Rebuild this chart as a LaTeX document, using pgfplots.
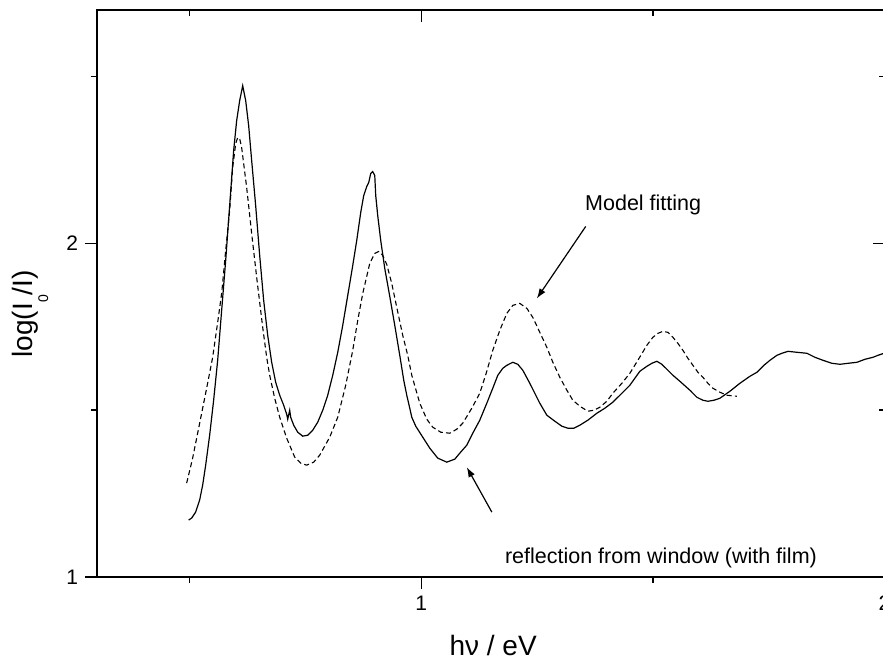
\documentclass[border=0pt]{standalone}
\usepackage{fontspec}
\setmainfont{Liberation Sans}
\usepackage{pgfplots}
\usepackage{pgfplotstable}
\pgfplotsset{compat=1.18}
\usetikzlibrary{arrows.meta}

\newcommand{\annfont}{\fontsize{10.75}{13}\selectfont}

% measured spectrum: reflection from window (with film)
\pgfplotstableread{
x y
0.4978 1.1707
0.5043 1.1766
0.5130 1.1946
0.5216 1.2305
0.5281 1.2754
0.5346 1.3353
0.5432 1.4251
0.5518 1.5299
0.5605 1.6497
0.5691 1.7994
0.5778 1.9491
0.5864 2.1138
0.5950 2.2784
0.6015 2.3683
0.6080 2.4281
0.6145 2.4731
0.6210 2.4281
0.6274 2.3533
0.6339 2.2485
0.6425 2.1138
0.6512 1.9641
0.6598 1.8293
0.6685 1.7246
0.6771 1.6437
0.6857 1.5838
0.6944 1.5449
0.7030 1.5150
0.7095 1.4880
0.7117 1.4731
0.7160 1.5000
0.7181 1.4790
0.7246 1.4551
0.7333 1.4341
0.7441 1.4222
0.7549 1.4251
0.7657 1.4401
0.7765 1.4641
0.7873 1.5000
0.7981 1.5449
0.8089 1.6048
0.8197 1.6737
0.8305 1.7545
0.8413 1.8443
0.8521 1.9341
0.8607 2.0090
0.8693 2.0928
0.8758 2.1437
0.8823 2.1707
0.8866 2.1826
0.8909 2.2096
0.8952 2.2156
0.8996 2.2036
0.9017 2.1437
0.9060 2.0838
0.9125 2.0090
0.9212 1.9251
0.9320 1.8413
0.9428 1.7545
0.9536 1.6647
0.9622 1.5898
0.9687 1.5449
0.9752 1.5060
0.9795 1.4790
0.9881 1.4521
1.0032 1.4192
1.0184 1.3862
1.0356 1.3563
1.0551 1.3443
1.0724 1.3533
1.0832 1.3713
1.0983 1.3952
1.1112 1.4311
1.1263 1.4701
1.1415 1.5210
1.1544 1.5659
1.1652 1.6048
1.1760 1.6257
1.1847 1.6347
1.1976 1.6437
1.2084 1.6377
1.2192 1.6198
1.2343 1.5808
1.2451 1.5509
1.2559 1.5210
1.2711 1.4850
1.2883 1.4671
1.3035 1.4521
1.3164 1.4461
1.3294 1.4461
1.3423 1.4551
1.3596 1.4701
1.3791 1.4910
1.3963 1.5060
1.4136 1.5240
1.4287 1.5449
1.4503 1.5749
1.4719 1.6168
1.4870 1.6317
1.4978 1.6407
1.5086 1.6467
1.5194 1.6377
1.5302 1.6228
1.5432 1.6048
1.5583 1.5868
1.5799 1.5599
1.5950 1.5389
1.6080 1.5299
1.6188 1.5269
1.6317 1.5299
1.6447 1.5359
1.6663 1.5569
1.6879 1.5808
1.7095 1.6018
1.7246 1.6138
1.7397 1.6347
1.7527 1.6497
1.7678 1.6647
1.7786 1.6707
1.7916 1.6766
1.8110 1.6737
1.8326 1.6707
1.8499 1.6587
1.8672 1.6497
1.8866 1.6407
1.9039 1.6377
1.9212 1.6407
1.9406 1.6437
1.9579 1.6527
1.9752 1.6587
1.9860 1.6647
1.9989 1.6707
}\measured

% model fitting
\pgfplotstableread{
x y
0.4935 1.2814
0.5065 1.3563
0.5216 1.4611
0.5367 1.5659
0.5497 1.6587
0.5605 1.7635
0.5691 1.8503
0.5778 1.9790
0.5864 2.0988
0.5929 2.2275
0.5994 2.2994
0.6037 2.3174
0.6080 2.3144
0.6123 2.2874
0.6231 2.1677
0.6339 2.0299
0.6447 1.8982
0.6577 1.7485
0.6663 1.6587
0.6728 1.6048
0.6836 1.5359
0.6944 1.4790
0.7095 1.4162
0.7268 1.3593
0.7397 1.3413
0.7527 1.3353
0.7678 1.3443
0.7808 1.3653
0.8024 1.4192
0.8197 1.4790
0.8369 1.5749
0.8521 1.6796
0.8629 1.7695
0.8737 1.8503
0.8888 1.9401
0.8996 1.9701
0.9082 1.9760
0.9168 1.9641
0.9255 1.9371
0.9363 1.8802
0.9471 1.8084
0.9600 1.7246
0.9708 1.6647
0.9795 1.6048
0.9968 1.5210
1.0119 1.4731
1.0248 1.4491
1.0421 1.4341
1.0616 1.4311
1.0767 1.4431
1.0896 1.4611
1.1091 1.5060
1.1263 1.5509
1.1415 1.6168
1.1544 1.6796
1.1695 1.7395
1.1847 1.7904
1.1976 1.8144
1.2127 1.8204
1.2279 1.8054
1.2408 1.7784
1.2559 1.7335
1.2711 1.6886
1.2840 1.6437
1.2991 1.5988
1.3143 1.5599
1.3272 1.5299
1.3423 1.5120
1.3596 1.4970
1.3726 1.5000
1.3855 1.5090
1.4006 1.5269
1.4136 1.5509
1.4330 1.5808
1.4503 1.6108
1.4676 1.6497
1.4870 1.6946
1.5000 1.7186
1.5108 1.7305
1.5216 1.7365
1.5324 1.7335
1.5432 1.7186
1.5540 1.7006
1.5648 1.6796
1.5756 1.6557
1.5864 1.6347
1.5972 1.6138
1.6080 1.5988
1.6188 1.5808
1.6296 1.5659
1.6447 1.5539
1.6598 1.5449
1.6814 1.5419
}\model

\pgfplotsset{
  frame/.style={
    scale only axis, width=393.75pt, height=283.5pt,
    at={(0,0)}, anchor=south west,
    xmin=0.3, xmax=2, ymin=1, ymax=2.7,
    xtick={1,2}, minor xtick={0.5,1.5},
    ytick={1,2}, minor ytick={1.5,2.5},
    major tick length=6pt, minor tick length=3pt,
    every tick/.style={black, line width=0.75pt},
  }
}

\begin{document}
\begin{tikzpicture}
\begin{axis}[frame,
  axis line style={line width=1pt},
  tick align=outside, xtick pos=left, ytick pos=left,
  ticklabel style={font=\fontsize{10.5}{12}\selectfont},
  /pgf/number format/assume math mode=true,
  xlabel={hν / eV},
  ylabel={log(I\raisebox{-8pt}{\fontsize{7}{8}\selectfont 0}/I)},
  label style={font=\fontsize{14}{16}\selectfont},
  xlabel style={at={(axis description cs:0.503,-0.12)}, anchor=center},
  ylabel style={at={(axis description cs:-0.0825,0.464)}, anchor=base},
]
  \addplot[black, line width=0.6pt] table[x=x, y=y] {\measured};
  \addplot[black, line width=0.55pt, dash pattern=on 2.5pt off 1.6pt] table[x=x, y=y] {\model};

  \node[anchor=west, inner sep=0pt, font=\annfont] at (axis cs:1.353,2.114) {Model fitting};
  \draw[-{Latex[length=5pt,width=3.5pt]}, line width=0.6pt]
    (axis cs:1.355,2.051) -- (axis cs:1.2495,1.835);
  \node[anchor=west, inner sep=0pt, font=\annfont] at (axis cs:1.180,1.057) {reflection from window (with film)};
  \draw[-{Latex[length=5pt,width=3.5pt]}, line width=0.6pt]
    (axis cs:1.1523,1.1946) -- (axis cs:1.0983,1.3293);

  \coordinate (bl) at (rel axis cs:0,0);
  \coordinate (tr) at (rel axis cs:1,1);
\end{axis}
% mirrored ticks on the top and right, pointing inwards
\begin{axis}[frame,
  axis line style={draw=none},
  tick align=inside, xtick pos=right, ytick pos=right,
  xticklabels={}, yticklabels={},
]
\end{axis}
\pgfresetboundingbox
\path[use as bounding box] ([xshift=-48.5pt,yshift=-41.5pt]bl) rectangle ([xshift=-0.75pt,yshift=5pt]tr);
\end{tikzpicture}
\end{document}
